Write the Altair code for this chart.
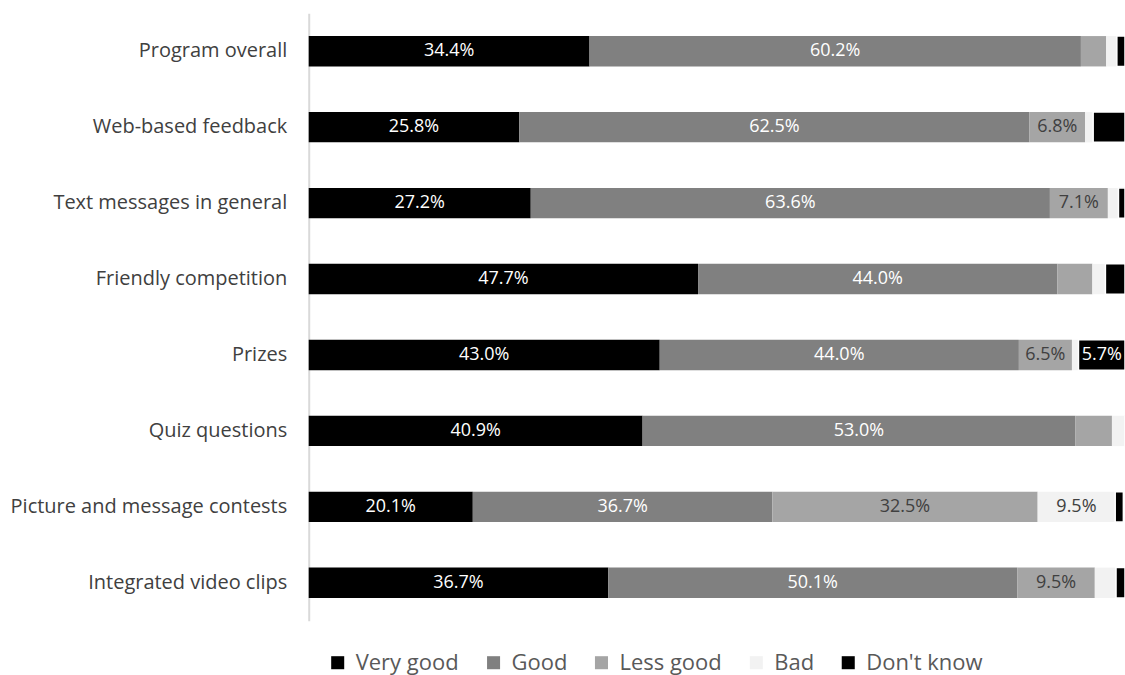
import altair as alt
import pandas as pd

categories = ["Program overall", "Web-based feedback", "Text messages in general",
              "Friendly competition", "Prizes", "Quiz questions",
              "Picture and message contests", "Integrated video clips"]
series = ["Very good", "Good", "Less good", "Bad", "Don't know"]
very_good = [34.4, 25.8, 27.2, 47.7, 43.0, 40.9, 20.1, 36.7]
good = [60.2, 62.5, 63.6, 44.0, 44.0, 53.0, 36.7, 50.1]
less_good = [3.1, 6.8, 7.1, 4.3, 6.5, 4.5, 32.5, 9.5]
bad = [1.3, 1.0, 1.3, 1.6, 0.8, 1.6, 9.5, 2.6]
dont_know = [1.0, 3.9, 0.8, 2.4, 5.7, 0.0, 1.0, 1.1]
colors = ["#000000", "#808080", "#a5a5a5", "#f2f2f2", "#000000"]
text_colors = ["#ffffff", "#ffffff", "#404040", "#404040", "#ffffff"]

rows = []
for i, cat in enumerate(categories):
    start = 0.0
    for s, vals, tc in zip(series, [very_good, good, less_good, bad, dont_know], text_colors):
        v = vals[i]
        rows.append({"category": cat, "series": s, "value": v, "start": start,
                     "end": start + v, "mid": start + v / 2,
                     "label": f"{v:.1f}%" if v >= 5 else "", "tcolor": tc})
        start += v
df = pd.DataFrame(rows)

y_enc = alt.Y("category:N", sort=categories, title=None,
              scale=alt.Scale(paddingInner=0.6, paddingOuter=0.3),
              axis=alt.Axis(ticks=False, labelPadding=22, labelFontSize=20,
                            labelFont="Open Sans", labelColor="#404040",
                            domainColor="#d9d9d9", domainWidth=2, labelLimit=400))
x_scale = alt.Scale(domain=[0, 100], nice=False, zero=True)

bars = alt.Chart(df).mark_bar(stroke="white").encode(
    x=alt.X("start:Q", scale=x_scale, axis=None),
    x2="end:Q",
    y=y_enc,
    color=alt.Color("series:N", sort=series,
                    scale=alt.Scale(domain=series, range=colors),
                    legend=alt.Legend(title=None, orient="none", direction="horizontal",
                                      legendX=18, legendY=639, symbolType="square",
                                      symbolSize=170, symbolStrokeWidth=0,
                                      labelFontSize=22, labelFont="Open Sans",
                                      labelColor="#595959", columnPadding=23,
                                      labelOffset=7, labelLimit=300)),
    strokeWidth=alt.condition(alt.datum.series == "Don't know", alt.value(1.5), alt.value(0)),
)

texts = alt.Chart(df).mark_text(fontSize=18, font="Open Sans").encode(
    x=alt.X("mid:Q", scale=x_scale),
    y=alt.Y("category:N", sort=categories),
    text="label:N",
    color=alt.Color("tcolor:N", scale=None),
)

chart = (bars + texts).properties(
    width=817, height=608,
    background="white",
    autosize=alt.AutoSizeParams(type="none"),
    padding={"left": 309, "top": 13, "right": 0, "bottom": 54},
).configure_view(stroke=None)

chart.save("out.html", embed_options={"renderer": "svg", "actions": False})
